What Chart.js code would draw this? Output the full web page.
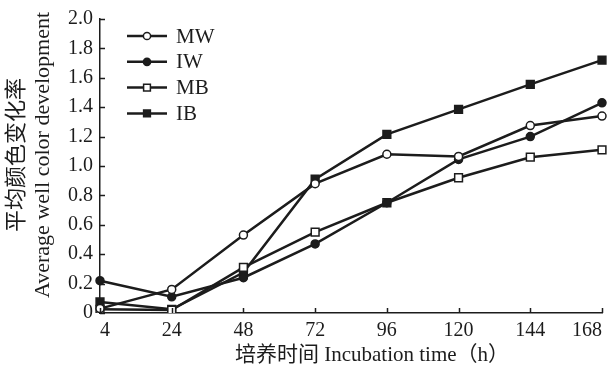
<!DOCTYPE html>
<html>
<head>
<meta charset="utf-8">
<title>Average well color development</title>
<script src="https://cdn.jsdelivr.net/npm/chart.js"></script>
<style>
  html, body { margin: 0; padding: 0; background: #fff; }
  .wrap { width: 610px; height: 370px; }
</style>
</head>
<body>
<div class="wrap"><canvas id="c" width="610" height="370"></canvas></div>
<script>
// 培养时间 (h)
const hours = ['4', '24', '48', '72', '96', '120', '144', '168'];

// 平均颜色变化率 AWCD
const mw = [0.03, 0.16, 0.53, 0.88, 1.08, 1.065, 1.275, 1.34];
const iw = [0.22, 0.11, 0.24, 0.47, 0.75, 1.045, 1.20, 1.43];
const mb = [0.025, 0.02, 0.31, 0.55, 0.75, 0.92, 1.06, 1.11];
const ib = [0.075, 0.025, 0.275, 0.91, 1.215, 1.385, 1.555, 1.72];

const yTicks = ['0', '0.2', '0.4', '0.6', '0.8', '1.0', '1.2', '1.4', '1.6', '1.8', '2.0'];

const INK = '#1c1c1c';
const SERIF = '"Liberation Serif", "Noto Sans CJK SC", serif';

function series(label, values, fill, style, r) {
  return {
    label,
    data: values,
    borderColor: INK,
    borderWidth: 2.5,
    pointStyle: style,
    pointRadius: r,
    pointBackgroundColor: fill,
    pointBorderColor: INK,
    pointBorderWidth: 1.5,
    tension: 0
  };
}

// 刻度朝内
const innerTicks = {
  id: 'innerTicks',
  afterDraw(chart) {
    const ctx = chart.ctx;
    const area = chart.chartArea;
    const x = chart.scales.x, y = chart.scales.y;
    ctx.save();
    ctx.strokeStyle = INK;
    ctx.lineWidth = 1.5;
    ctx.beginPath();
    y.ticks.forEach(t => {
      const py = Math.round(y.getPixelForValue(t.value)) + 0.5;
      ctx.moveTo(area.left, py);
      ctx.lineTo(area.left + 5, py);
    });
    x.ticks.forEach((t, i) => {
      const px = Math.round(x.getPixelForTick(i)) + 0.5;
      ctx.moveTo(px, area.bottom);
      ctx.lineTo(px, area.bottom - 5);
    });
    ctx.stroke();
    ctx.restore();
  }
};

// 图例：线段加标记
const lineLegend = {
  id: 'lineLegend',
  afterDraw(chart) {
    const ctx = chart.ctx;
    const area = chart.chartArea;
    const x0 = area.left + 27, y0 = area.top + 17, step = 25.8;
    ctx.save();
    chart.data.datasets.forEach((ds, i) => {
      const yy = y0 + i * step;
      ctx.strokeStyle = INK;
      ctx.lineWidth = 2.5;
      ctx.beginPath();
      ctx.moveTo(x0, yy);
      ctx.lineTo(x0 + 40, yy);
      ctx.stroke();
      ctx.fillStyle = ds.pointBackgroundColor;
      ctx.lineWidth = 1.5;
      Chart.helpers.drawPoint(ctx, {
        pointStyle: ds.pointStyle,
        radius: ds.pointStyle === 'rect' ? 4.8 : 3.6,
        borderWidth: 1.5
      }, x0 + 20, yy);
      ctx.fillStyle = INK;
      ctx.font = '21px ' + SERIF;
      ctx.textBaseline = 'middle';
      ctx.fillText(ds.label, x0 + 49, yy + 1);
    });
    ctx.restore();
  }
};

new Chart(document.getElementById('c'), {
  type: 'line',
  data: {
    labels: hours,
    datasets: [
      series('MW', mw, '#ffffff', 'circle', 4),
      series('IW', iw, INK, 'circle', 4),
      series('MB', mb, '#ffffff', 'rect', 5.5),
      series('IB', ib, INK, 'rect', 5.5)
    ]
  },
  options: {
    responsive: false,
    animation: false,
    layout: { padding: { top: 17, right: 8, bottom: 0, left: 0 } },
    plugins: {
      legend: { display: false },
      tooltip: { enabled: false }
    },
    scales: {
      x: {
        type: 'category',
        offset: false,
        grid: { display: true, drawOnChartArea: false, drawTicks: false },
        border: { display: true, color: INK, width: 1.5 },
        ticks: {
          color: INK,
          padding: 6,
          align: 'inner',
          maxRotation: 0,
          font: { family: SERIF, size: 20 }
        },
        title: {
          display: true,
          text: '\u2003\u2003培养时间 Incubation time（h）',
          color: INK,
          padding: { top: 0, bottom: 2 },
          font: { family: SERIF, size: 21, lineHeight: 1.2 }
        },
        afterFit(s) {
          s.height = 57;
          s.paddingLeft = 0;
          s.paddingRight = 0;
        }
      },
      y: {
        min: 0,
        max: 2,
        grid: { display: true, drawOnChartArea: false, drawTicks: false },
        border: { display: true, color: INK, width: 1.5 },
        ticks: {
          stepSize: 0.2,
          color: INK,
          padding: 7,
          font: { family: SERIF, size: 20 },
          callback: (v, i) => yTicks[i]
        },
        title: {
          display: true,
          text: ['\u2003平均颜色变化率', '\u2003Average well color development'],
          color: INK,
          padding: { top: 4, bottom: 0 },
          font: { family: SERIF, size: 22, lineHeight: 1.2 }
        },
        afterFit(s) {
          s.width = 100;
        }
      }
    }
  },
  plugins: [innerTicks, lineLegend]
});
</script>
</body>
</html>
